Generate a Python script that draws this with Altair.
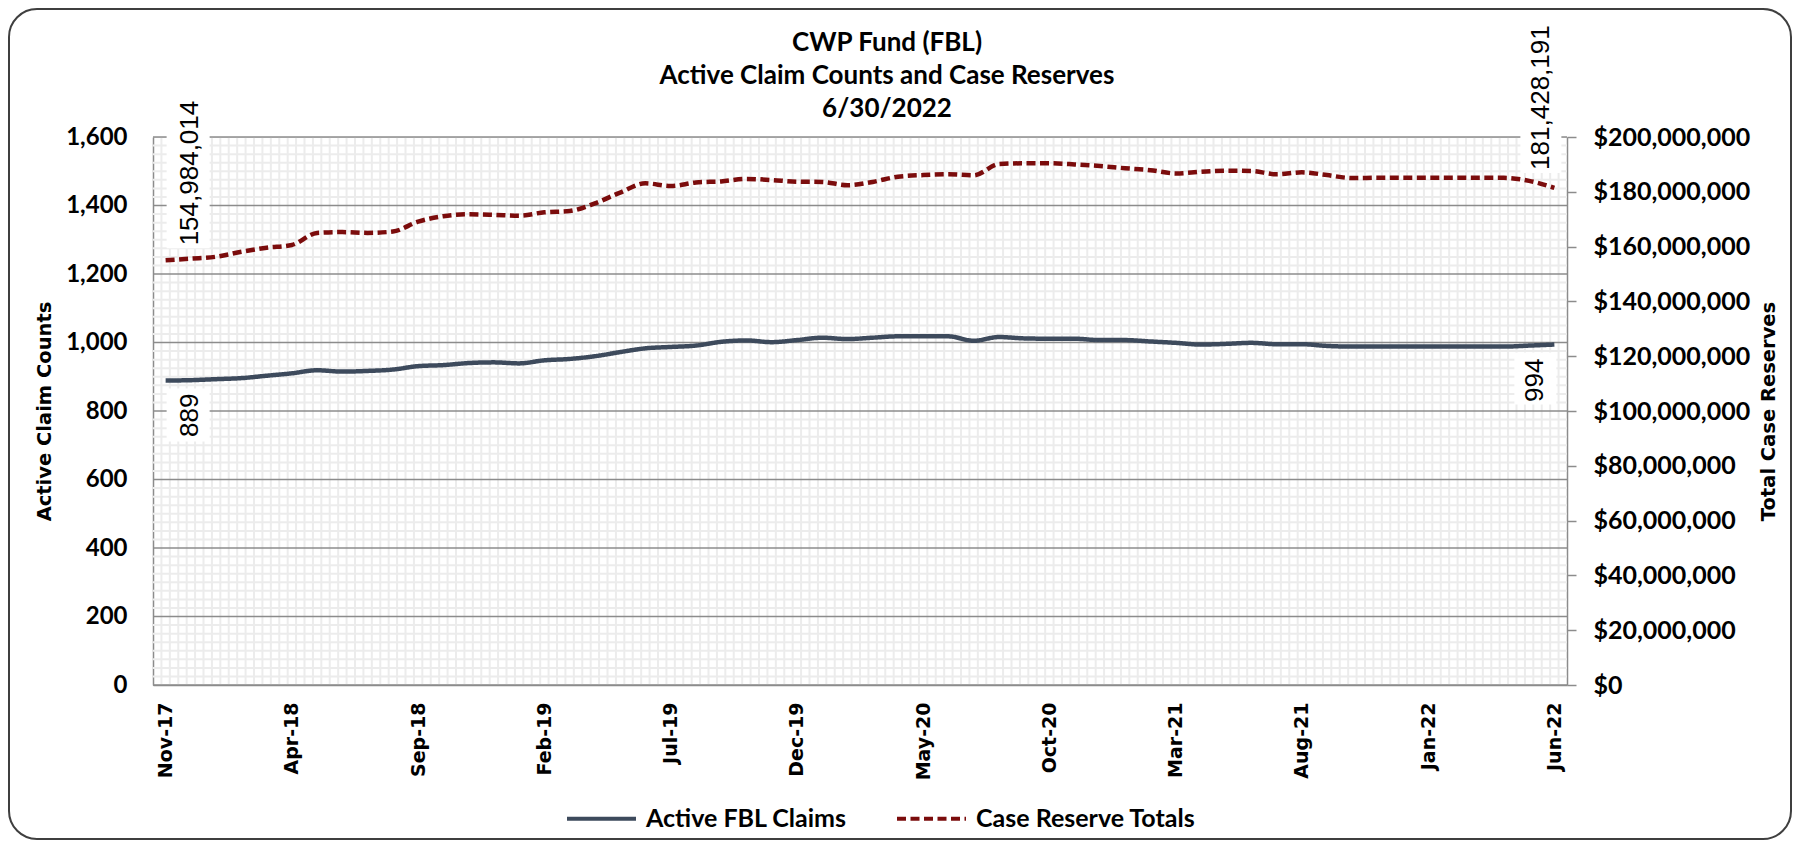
import altair as alt
import pandas as pd
import numpy as np

# ---------------- data ----------------
months = ["Nov-17", "Dec-17",
          "Jan-18", "Feb-18", "Mar-18", "Apr-18", "May-18", "Jun-18", "Jul-18", "Aug-18", "Sep-18", "Oct-18", "Nov-18", "Dec-18",
          "Jan-19", "Feb-19", "Mar-19", "Apr-19", "May-19", "Jun-19", "Jul-19", "Aug-19", "Sep-19", "Oct-19", "Nov-19", "Dec-19",
          "Jan-20", "Feb-20", "Mar-20", "Apr-20", "May-20", "Jun-20", "Jul-20", "Aug-20", "Sep-20", "Oct-20", "Nov-20", "Dec-20",
          "Jan-21", "Feb-21", "Mar-21", "Apr-21", "May-21", "Jun-21", "Jul-21", "Aug-21", "Sep-21", "Oct-21", "Nov-21", "Dec-21",
          "Jan-22", "Feb-22", "Mar-22", "Apr-22", "May-22", "Jun-22"]
tick_labels = ["Nov-17", "Apr-18", "Sep-18", "Feb-19", "Jul-19", "Dec-19",
               "May-20", "Oct-20", "Mar-21", "Aug-21", "Jan-22", "Jun-22"]

claims = [889, 890, 893, 896, 903, 910, 919, 915, 917, 921, 931, 934, 940, 942,
          939, 948, 952, 960, 972, 983, 987, 991, 1002, 1006, 1001, 1007, 1014, 1010,
          1014, 1018, 1018, 1018, 1005, 1016, 1012, 1011, 1011, 1007, 1007, 1003, 999, 994,
          996, 999, 995, 995, 990, 988, 988, 988, 988, 988, 988, 988, 991, 994]

reserves = [154984014, 155600000, 156300000, 158100000, 159600000, 160600000, 165000000,
            165300000, 165000000, 165500000, 169100000, 171100000, 171800000, 171600000,
            171300000, 172500000, 173000000, 175800000, 179700000, 183100000, 182100000,
            183400000, 183800000, 184700000, 184300000, 183700000, 183600000, 182400000,
            183600000, 185500000, 186100000, 186400000, 186000000, 190100000, 190400000,
            190400000, 190000000, 189400000, 188600000, 187900000, 186700000, 187300000,
            187700000, 187600000, 186400000, 187100000, 186100000, 185000000, 185100000,
            185100000, 185100000, 185100000, 185100000, 185100000, 184000000, 181428191]

title_lines = ["CWP Fund (FBL)", "Active Claim Counts and Case Reserves", "6/30/2022"]
series_names = ["Active FBL Claims", "Case Reserve Totals"]
series_colors = ["#3D4A5C", "#7B0C0C"]
left_ticks = [0, 200, 400, 600, 800, 1000, 1200, 1400, 1600]
right_ticks = [0, 20000000, 40000000, 60000000, 80000000, 100000000,
               120000000, 140000000, 160000000, 180000000, 200000000]
minor_step_y = 25

# ---------------- layout / styles ----------------
W, H = 1414, 548
last = len(months) - 1
df = pd.DataFrame({"i": np.arange(len(months)), "month": months,
                   "claims": claims, "reserves": reserves})

CAL = "Lato"            # stand-in for Calibri bold
VER = "DejaVu Sans"     # stand-in for Verdana
NAR = "Liberation Sans"
GRID_MAJOR = "#8c8c8c"
GRID_MINOR = "#ececec"

xs = alt.Scale(domain=[-0.5, last + 0.5], nice=False, zero=False)
ysl = alt.Scale(domain=[0, 1600], nice=False)
ysr = alt.Scale(domain=[0, 200000000], nice=False)

label_expr = "[" + ",".join("'%s'" % t for t in tick_labels) + "][round(datum.value/5)]"

x_axis = alt.Axis(values=list(range(0, last + 1, 5)), labelExpr=label_expr, labelAngle=270,
                  labelFont=VER, labelFontWeight="bold", labelFontSize=19, labelColor="black",
                  labelPadding=17, ticks=False, grid=False, domainColor=GRID_MAJOR, domainWidth=1.5,
                  title=None, labelFlush=False, labelOverlap=False)
left_axis = alt.Axis(orient="left", values=left_ticks, format=",.0f", labelFont=CAL,
                     labelFontWeight="bold", labelFontSize=24, labelColor="black", labelPadding=26,
                     ticks=False, grid=False, domainColor=GRID_MAJOR, domainWidth=1.5,
                     title="Active Claim Counts", titleFont=VER, titleFontWeight="bold",
                     titleFontSize=19.5, titleColor="black", titlePadding=11)
right_axis = alt.Axis(orient="right", values=right_ticks, format="$,.0f", labelFont=CAL,
                      labelFontWeight="bold", labelFontSize=25, labelColor="black", labelPadding=17,
                      ticks=True, tickSize=9, tickColor=GRID_MAJOR, tickWidth=1.5, grid=False,
                      domainColor=GRID_MAJOR, domainWidth=1.5, title="Total Case Reserves",
                      titleAngle=270, titleBaseline="top", titleFont=VER, titleFontWeight="bold",
                      titleFontSize=19.5, titleColor="black", titlePadding=10)

legend = alt.Legend(orient="none", legendX=412, legendY=645, direction="horizontal", title=None,
                    symbolType="stroke", symbolSize=4761, symbolStrokeWidth=4,
                    labelFont=CAL, labelFontWeight="bold", labelFontSize=25, labelColor="black",
                    labelOffset=8, columnPadding=42, labelLimit=500)
color = alt.Color("series:N", scale=alt.Scale(domain=series_names, range=series_colors), legend=legend)
dash = alt.StrokeDash("series:N", scale=alt.Scale(domain=series_names, range=[[1, 0], [9, 4.5]]),
                      legend=legend)

base = alt.Chart(df)
X = alt.X("i:Q", scale=xs, axis=x_axis)

# ---------------- background pieces ----------------
frame = alt.Chart(alt.Data(values=[{}])).mark_rect(
    fillOpacity=0, stroke="#3f3f3f", strokeWidth=2, cornerRadius=28
).encode(x=alt.value(-144), x2=alt.value(1638), y=alt.value(-128), y2=alt.value(702))

minor_x = list(np.arange(-0.5 + 1 / 3, last + 0.5, 1 / 3))
minor_y = [v for v in range(0, 1601, minor_step_y) if v % 200]

vgrid = alt.Chart(pd.DataFrame({"i": minor_x})).mark_rule(color=GRID_MINOR, strokeWidth=2).encode(
    x=X, y=alt.value(0), y2=alt.value(H))
hgrid = alt.Chart(pd.DataFrame({"gy": minor_y})).mark_rule(color=GRID_MINOR, strokeWidth=2).encode(
    y=alt.Y("gy:Q", scale=ysl, axis=None), x=alt.value(0), x2=alt.value(W))
major = alt.Chart(pd.DataFrame({"gy": left_ticks})).mark_rule(color=GRID_MAJOR, strokeWidth=1.5).encode(
    y=alt.Y("gy:Q", scale=ysl, axis=None), x=alt.value(0), x2=alt.value(W))

# ---------------- series ----------------
claims_line = base.transform_calculate(series="'Active FBL Claims'").mark_line(
    interpolate="monotone", strokeWidth=4.5).encode(
    x=X, y=alt.Y("claims:Q", scale=ysl, axis=left_axis), color=color, strokeDash=dash)

reserves_line = base.transform_calculate(series="'Case Reserve Totals'").mark_line(
    interpolate="monotone", strokeWidth=4.5).encode(
    x=X, y=alt.Y("reserves:Q", scale=ysr, axis=right_axis), color=color, strokeDash=dash)


def label_pair(field, scale, idx, align, dx, dy, box):
    sel = base.transform_filter("datum.i == %d" % idx)
    enc = dict(x=X, y=alt.Y(field + ":Q", scale=scale, axis=None))
    rect = sel.mark_rect(color="white", xOffset=box[0], x2Offset=box[1],
                         yOffset=box[2], y2Offset=box[3]).encode(
        x2=alt.X2("i"), y2=alt.Y2(field), **enc)
    txt = sel.mark_text(angle=270, align=align, baseline="middle", dx=dx, dy=dy,
                        font=NAR, fontSize=26, color="black").encode(
        text=alt.Text(field + ":Q", format=","), **enc)
    return rect, txt


c0_box, c0_txt = label_pair("claims", ysl, 0, "right", -13, 24, (1, 44, 8, 61))
c1_box, c1_txt = label_pair("claims", ysl, last, "right", -14, -19, (-40, 2, 8, 60))
r0_box, r0_txt = label_pair("reserves", ysr, 0, "left", 15, 24, (1, 44, -160, -12))
r1_box, r1_txt = label_pair("reserves", ysr, last, "left", 18, -13.5, (-34, 7, -160, -15))

chart = alt.layer(
    frame, vgrid, hgrid, major, claims_line, reserves_line,
    c0_box, c1_box, r0_box, r1_box, c0_txt, c1_txt, r0_txt, r1_txt
).resolve_scale(y="independent").properties(
    width=W, height=H,
    title=alt.TitleParams(text=title_lines, font=CAL, fontSize=26, fontWeight="bold", color="black",
                          anchor="middle", frame="group", dx=27, dy=114, lineHeight=33, offset=0),
    padding={"left": 145, "top": 129, "right": 226, "bottom": 156},
    autosize=alt.AutoSizeParams(type="none"),
).configure_view(stroke=None).configure(background="white")

chart.save("out.html", embed_options={"renderer": "svg", "actions": False})
